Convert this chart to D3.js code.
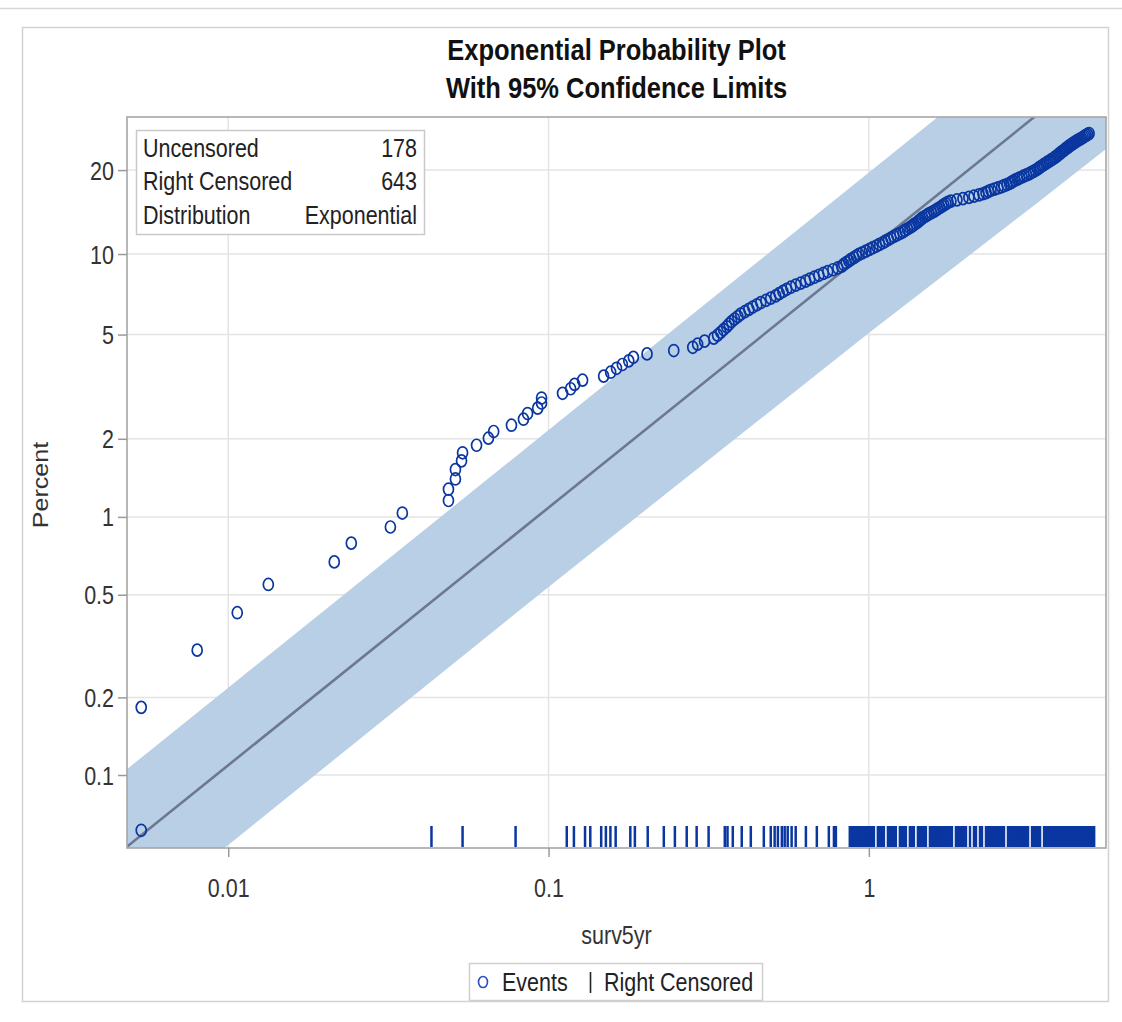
<!DOCTYPE html>
<html><head><meta charset="utf-8">
<script src="https://cdn.jsdelivr.net/npm/d3@7"></script>
<style>body{margin:0;background:#fff}svg{display:block}</style>
</head><body>
<svg id="c" width="1122" height="1022"></svg>
<script>
// ---------------- data ----------------
const titleLines = ["Exponential Probability Plot", "With 95% Confidence Limits"];
const xLabel = "surv5yr";
const yLabel = "Percent";
const xTickValues = [0.01, 0.1, 1];
const xTickLabels = ["0.01", "0.1", "1"];
const yTickValues = [0.1, 0.2, 0.5, 1, 2, 5, 10, 20];
const yTickLabels = ["0.1", "0.2", "0.5", "1", "2", "5", "10", "20"];
const insetLabels = ["Uncensored", "Right Censored", "Distribution"];
const insetValues = ["178", "643", "Exponential"];
const legendLabels = ["Events", "Right Censored"];

// event (uncensored) observations: time and plotting percent
const eventTime = [
0.00535,0.00535,0.00800,0.01067,0.01334,0.02143,0.02422,0.03208,0.03496,0.0487,
0.0487,0.0512,0.0512,0.0535,0.0539,0.0596,0.0649,0.0674,0.0766,0.0835,
0.0860,0.0925,0.0951,0.0951,0.1106,0.1172,0.1206,0.1277,0.1486,0.1563,
0.163,0.170,0.178,0.184,0.203,0.246,0.282,0.292,0.307,0.328,
0.337,0.345,0.352,0.360,0.366,0.373,0.381,0.390,0.398,0.410,
0.422,0.434,0.447,0.460,0.477,0.494,0.512,0.525,0.539,0.554,
0.571,0.591,0.613,0.635,0.654,0.676,0.698,0.721,0.744,0.772,
0.800,0.823,0.835,0.850,0.866,0.879,0.898,0.914,0.931,0.954,
0.979,1.004,1.029,1.056,1.079,1.106,1.126,1.151,1.172,1.197,
1.223,1.250,1.277,1.296,1.319,1.343,1.363,1.382,1.402,1.422,
1.438,1.454,1.470,1.496,1.518,1.540,1.568,1.596,1.620,1.643,
1.667,1.691,1.715,1.740,1.765,1.804,1.884,1.967,2.053,2.129,
2.207,2.271,2.321,2.363,2.406,2.467,2.530,2.595,2.642,2.700,
2.748,2.786,2.816,2.859,2.911,2.953,3.007,3.050,3.106,3.162,
3.208,3.266,3.314,3.363,3.400,3.436,3.485,3.523,3.573,3.612,
3.665,3.704,3.758,3.798,3.840,3.881,3.910,3.952,3.981,4.024,
4.068,4.097,4.142,4.188,4.218,4.264,4.308,4.355,4.402,4.450,
4.498,4.564,4.614,4.664,4.713,4.765,4.817,4.870];
const eventPct = [
0.061,0.183,0.305,0.426,0.548,0.670,0.792,0.914,1.035,1.157,
1.279,1.401,1.523,1.645,1.767,1.889,2.011,2.133,2.255,2.378,
2.500,2.622,2.744,2.866,2.988,3.110,3.232,3.354,3.476,3.598,
3.723,3.848,3.973,4.098,4.223,4.348,4.473,4.598,4.723,4.848,
4.973,5.098,5.223,5.348,5.473,5.598,5.723,5.848,5.973,6.098,
6.223,6.348,6.473,6.598,6.723,6.858,6.993,7.128,7.263,7.398,
7.533,7.668,7.803,7.938,8.073,8.208,8.343,8.478,8.613,8.748,
8.883,9.018,9.153,9.288,9.423,9.558,9.693,9.828,9.963,10.098,
10.248,10.398,10.548,10.698,10.848,10.998,11.148,11.298,11.448,11.598,
11.748,11.898,12.048,12.198,12.348,12.498,12.648,12.798,12.948,13.098,
13.248,13.398,13.548,13.698,13.848,13.998,14.148,14.298,14.448,14.598,
14.758,14.918,15.078,15.238,15.398,15.558,15.718,15.878,16.038,16.198,
16.358,16.518,16.678,16.838,16.998,17.158,17.318,17.478,17.638,17.798,
17.958,18.118,18.278,18.438,18.598,18.758,18.918,19.078,19.238,19.398,
19.588,19.778,19.968,20.158,20.348,20.538,20.728,20.918,21.108,21.298,
21.488,21.678,21.868,22.058,22.248,22.438,22.628,22.818,23.008,23.198,
23.388,23.578,23.768,23.958,24.148,24.338,24.528,24.718,24.908,25.098,
25.288,25.478,25.668,25.858,26.048,26.238,26.428,26.618];

// right-censored observation times (rug)
const censoredTime = [
0.0431,0.0539,0.0789,0.114,0.120,0.130,0.135,0.146,0.151,0.156,0.162,0.180,0.186,0.204,
0.229,0.248,0.270,0.290,0.316,0.355,0.362,0.376,0.401,0.428,0.470,0.494,0.508,0.520,
0.535,0.546,0.558,0.574,0.591,0.636,0.688,0.750,0.778,0.789,
0.872,0.885,0.898,0.911,0.924,0.937,0.951,0.965,0.979,0.993,1.007,1.022,1.037,1.067,
1.083,1.098,1.114,1.147,1.163,1.180,1.197,1.214,1.250,1.268,1.286,1.305,1.343,1.363,
1.382,1.423,1.443,1.464,1.486,1.507,1.551,1.574,1.596,1.620,1.643,1.667,1.691,1.716,
1.741,1.766,1.791,1.817,1.870,1.897,1.925,1.953,1.981,2.010,2.069,2.129,2.160,2.223,
2.255,2.321,2.355,2.389,2.423,2.459,2.494,2.530,2.567,2.604,2.642,2.719,2.759,2.799,
2.839,2.880,2.922,2.965,3.008,3.051,3.095,3.140,3.232,3.279,3.327,3.375,3.424,3.524,
3.575,3.627,3.679,3.733,3.787,3.842,3.897,3.954,4.011,4.069,4.128,4.188,4.249,4.310,
4.373,4.436,4.501,4.566,4.632,4.699,4.767,4.837,4.907,4.978,5.050];

// fitted exponential line and 95% confidence band
const fitTime = [0.0048, 5.6];
const fitPct = [0.0524, 45.75];
const bandTime = [0.0048, 0.01, 0.1, 1, 3.3, 5.6];
const bandLower = [0.0258, 0.0535, 0.536, 5.07, 15.1, 23.98];
const bandUpper = [0.1047, 0.2182, 2.160, 19.62, 51.4, 70.6];

// ---------------- layout ----------------
const W = 1122, H = 1022;
const P = {left: 127, right: 1106, top: 117, bottom: 848};
const SY = 1.17;          // vertical stretch of glyphs in the reference
const FONT = "'Liberation Sans', Arial, sans-serif";
const BLUE = "#0a36a0";

const svg = d3.select("#c");
svg.append("rect").attr("width", W).attr("height", H).attr("fill", "#fff");

// outer frame
svg.append("line").attr("x1", 0).attr("x2", W).attr("y1", 8.5).attr("y2", 8.5).attr("stroke", "#d6d6d6").attr("stroke-width", 1.5);
svg.append("rect").attr("x", 22.5).attr("y", 27.5).attr("width", 1086).attr("height", 974)
  .attr("fill", "none").attr("stroke", "#d2d2d2").attr("stroke-width", 1.5);

function txt(parent, x, y, s, o = {}) {
  const g = parent.append("g")
    .attr("transform", `translate(${x},${y}) scale(1,${SY})` + (o.rotate ? ` rotate(${o.rotate})` : ""));
  return g.append("text")
    .attr("text-anchor", o.anchor || "start")
    .style("font-family", FONT)
    .style("font-size", (o.size || 21.5) + "px")
    .style("font-weight", o.weight || "normal")
    .attr("fill", o.fill || "#222")
    .text(s);
}

// scales
const x = d3.scaleLog().domain([0.00483, 5.5]).range([P.left, P.right]);
const pctToH = p => -Math.log(1 - p / 100);
const yH = d3.scaleLog().domain([0.000521, 0.3586]).range([P.bottom, P.top]);
const y = p => yH(pctToH(p));

// clip
svg.append("clipPath").attr("id", "clip").append("rect")
  .attr("x", P.left).attr("y", P.top).attr("width", P.right - P.left).attr("height", P.bottom - P.top);

// gridlines
const grid = svg.append("g");
grid.selectAll(".gx").data(xTickValues).join("line")
  .attr("x1", d => x(d)).attr("x2", d => x(d)).attr("y1", P.top).attr("y2", P.bottom)
  .attr("stroke", "#e4e4e4").attr("stroke-width", 1.5);
grid.selectAll(".gy").data(yTickValues).join("line")
  .attr("x1", P.left).attr("x2", P.right).attr("y1", d => y(d)).attr("y2", d => y(d))
  .attr("stroke", "#e4e4e4").attr("stroke-width", 1.5);

const plot = svg.append("g").attr("clip-path", "url(#clip)");

// confidence band
const bandData = bandTime.map((t, i) => ({t, lo: bandLower[i], hi: bandUpper[i]}));
plot.append("path").datum(bandData)
  .attr("d", d3.area().x(d => x(d.t)).y0(d => y(d.lo)).y1(d => y(d.hi)))
  .attr("fill", "#b9cfe6");

// fitted line
const fitData = fitTime.map((t, i) => ({t, p: fitPct[i]}));
plot.append("path").datum(fitData)
  .attr("d", d3.line().x(d => x(d.t)).y(d => y(d.p)))
  .attr("fill", "none").attr("stroke", "#6d7890").attr("stroke-width", 2.6);

// censored rug
plot.selectAll(".rug").data(censoredTime).join("line")
  .attr("x1", d => x(d)).attr("x2", d => x(d))
  .attr("y1", P.bottom - 22).attr("y2", P.bottom - 1)
  .attr("stroke", BLUE).attr("stroke-width", 2.5);

// events
const ev = eventTime.map((t, i) => ({t, p: eventPct[i]}));
plot.selectAll(".ev").data(ev).join("ellipse")
  .attr("cx", d => x(d.t)).attr("cy", d => y(d.p))
  .attr("rx", 5).attr("ry", 6)
  .attr("fill", "none").attr("stroke", BLUE).attr("stroke-width", 1.7);

// plot border
svg.append("rect").attr("x", P.left).attr("y", P.top)
  .attr("width", P.right - P.left).attr("height", P.bottom - P.top)
  .attr("fill", "none").attr("stroke", "#a6a6a6").attr("stroke-width", 1.6);

// axes (ticks from d3 axes, labels stretched like reference)
const xAxis = svg.append("g").attr("transform", `translate(0,${P.bottom})`)
  .call(d3.axisBottom(x).tickValues(xTickValues).tickSize(9).tickPadding(0).tickFormat((d, i) => xTickLabels[i]));
xAxis.select(".domain").remove();
xAxis.selectAll(".tick line").attr("stroke", "#9a9a9a").attr("stroke-width", 1.5);
xAxis.selectAll(".tick text")
  .attr("y", null).attr("dy", null)
  .attr("transform", `translate(0,49) scale(1,${SY})`)
  .style("font-family", FONT).style("font-size", "21.5px").attr("fill", "#333");

const yAxis = svg.append("g").attr("transform", `translate(${P.left},0)`)
  .call(d3.axisLeft(yH).tickValues(yTickValues.map(pctToH)).tickSize(9).tickPadding(0)
    .tickFormat((d, i) => yTickLabels[i]));
yAxis.select(".domain").remove();
yAxis.selectAll(".tick line").attr("stroke", "#9a9a9a").attr("stroke-width", 1.5);
yAxis.selectAll(".tick text")
  .attr("x", null).attr("dy", null)
  .attr("transform", `translate(-13,9) scale(1,${SY})`)
  .style("font-family", FONT).style("font-size", "21.5px").attr("fill", "#333");

// titles
txt(svg, (P.left + P.right) / 2, 60, titleLines[0], {size: 25.5, weight: "bold", anchor: "middle", fill: "#111"});
txt(svg, (P.left + P.right) / 2, 98, titleLines[1], {size: 25.5, weight: "bold", anchor: "middle", fill: "#111"});
txt(svg, (P.left + P.right) / 2, 944, xLabel, {anchor: "middle", fill: "#333"});
txt(svg, 48, 485, yLabel, {anchor: "middle", rotate: -90, fill: "#333"});

// inset statistics table
const inset = svg.append("g");
inset.append("rect").attr("x", 136.5).attr("y", 130.5).attr("width", 288).attr("height", 104)
  .attr("fill", "#fff").attr("stroke", "#c9c9c9").attr("stroke-width", 1.5);
insetLabels.forEach((lab, i) => {
  txt(inset, 143, 157 + i * 33.3, lab, {fill: "#222"});
  txt(inset, 417, 157 + i * 33.3, insetValues[i], {anchor: "end", fill: "#222"});
});

// bottom legend
const leg = svg.append("g");
leg.append("rect").attr("x", 469.5).attr("y", 963.5).attr("width", 293).attr("height", 37)
  .attr("fill", "#fff").attr("stroke", "#cfcfcf").attr("stroke-width", 1.5);
leg.append("ellipse").attr("cx", 483).attr("cy", 982).attr("rx", 4.5).attr("ry", 5.5)
  .attr("fill", "none").attr("stroke", "#2a4cc0").attr("stroke-width", 1.6);
txt(leg, 502, 991, legendLabels[0], {fill: "#222"});
leg.append("line").attr("x1", 590.5).attr("x2", 590.5).attr("y1", 972).attr("y2", 993)
  .attr("stroke", "#222").attr("stroke-width", 1.6);
txt(leg, 604, 991, legendLabels[1], {fill: "#222"});
</script>
</body></html>
